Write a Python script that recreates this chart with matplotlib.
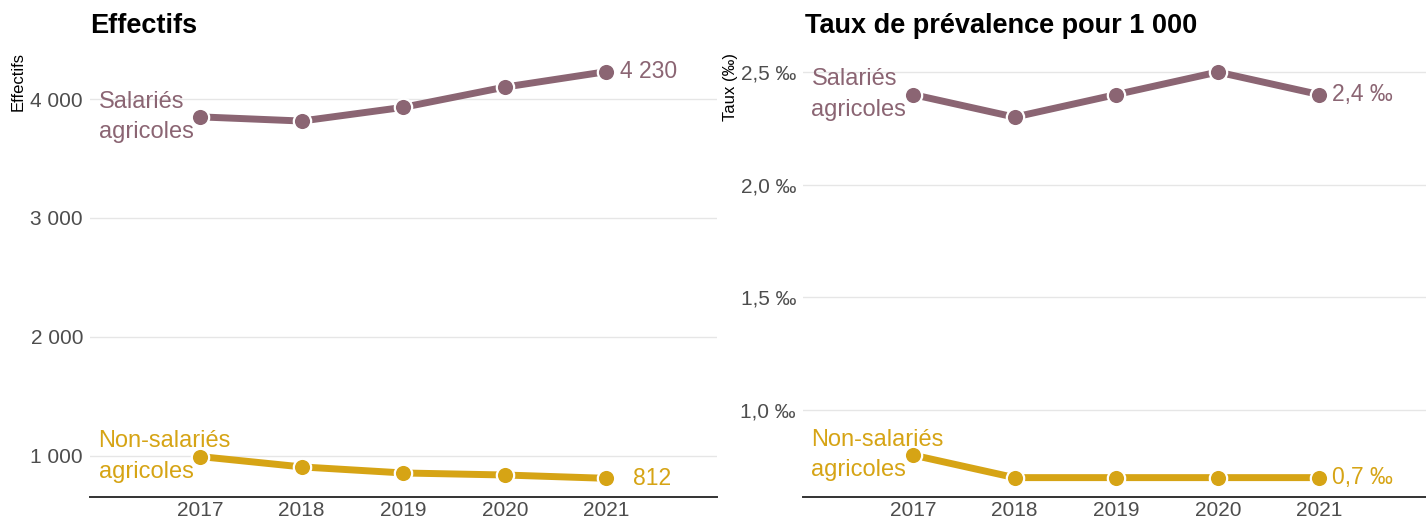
import matplotlib.pyplot as plt
from matplotlib.ticker import FixedLocator

plt.rcParams['font.family'] = ['Liberation Sans', 'DejaVu Sans']

years = [2017, 2018, 2019, 2020, 2021]

# Effectifs
eff_salaries = [3850, 3815, 3930, 4100, 4230]
eff_non_salaries = [995, 908, 857, 840, 812]

# Taux de prévalence pour 1 000
taux_salaries = [2.4, 2.3, 2.4, 2.5, 2.4]
taux_non_salaries = [0.8, 0.7, 0.7, 0.7, 0.7]

eff_ticks = [1000, 2000, 3000, 4000]
taux_ticks = [1.0, 1.5, 2.0, 2.5]

MAUVE = '#8b6573'
JAUNE = '#d6a415'
GRID = '#e6e6e6'
TICK = '#4d4d4d'


def fmt_eff(v):
    return f"{int(v):,}".replace(',', ' ')


def fmt_taux(v):
    return f"{v:.1f}".replace('.', ',') + ' ‰'


fig = plt.figure(figsize=(14.26, 5.19), dpi=100)
W, H = 1426, 519


def make_axes(left_px, right_px):
    return fig.add_axes([left_px / W, (H - 497) / H,
                         (right_px - left_px) / W, (497 - 45) / H])


def style(ax, ticks, fmt, ylim, xlim):
    ax.set_xlim(*xlim)
    ax.set_ylim(*ylim)
    ax.yaxis.set_major_locator(FixedLocator(ticks))
    ax.set_yticklabels([fmt(t) for t in ticks])
    ax.set_xticks(years)
    ax.set_xticklabels([str(y) for y in years])
    ax.tick_params(length=0, labelsize=15, colors=TICK)
    ax.tick_params(axis='y', pad=5)
    ax.tick_params(axis='x', pad=3)
    ax.grid(axis='y', color=GRID, linewidth=1)
    ax.set_axisbelow(True)
    for s in ['top', 'right', 'left']:
        ax.spines[s].set_visible(False)
    ax.spines['bottom'].set_color('#333333')
    ax.spines['bottom'].set_linewidth(1.4)


def draw_series(ax, vals, color, label, end_label, end_dx):
    ax.plot(years, vals, color=color, lw=5, solid_capstyle='butt', zorder=2)
    ax.plot(years, vals, 'o', color=color, ms=12.5, mec='white', mew=1.6, zorder=3)
    ax.text(2016.0, vals[0], label, color=color, fontsize=17,
            ha='left', va='center', linespacing=1.5, zorder=4)
    ax.text(years[-1] + end_dx, vals[-1], end_label, color=color, fontsize=16.5,
            ha='left', va='center', zorder=4)


# Panneau gauche : effectifs
ax1 = make_axes(90, 717)
style(ax1, eff_ticks, fmt_eff, (655, 4454), (2015.916, 2022.09))
draw_series(ax1, eff_salaries, MAUVE, 'Salariés\nagricoles', fmt_eff(eff_salaries[-1]), 0.13)
draw_series(ax1, eff_non_salaries, JAUNE, 'Non-salariés\nagricoles', fmt_eff(eff_non_salaries[-1]), 0.26)
fig.text(90 / W, 1 - 33 / H, 'Effectifs', fontsize=19.5, fontweight='bold',
         ha='left', va='baseline')
fig.text(18 / W, 1 - 52 / H, 'Effectifs', fontsize=12, rotation=90,
         ha='center', va='top')

# Panneau droit : taux de prévalence
ax2 = make_axes(803, 1426)
style(ax2, taux_ticks, fmt_taux, (0.614, 2.62), (2015.917, 2022.05))
draw_series(ax2, taux_salaries, MAUVE, 'Salariés\nagricoles', fmt_taux(taux_salaries[-1]), 0.12)
draw_series(ax2, taux_non_salaries, JAUNE, 'Non-salariés\nagricoles', fmt_taux(taux_non_salaries[-1]), 0.12)
fig.text(805 / W, 1 - 33 / H, 'Taux de prévalence pour 1 000', fontsize=19.5,
         fontweight='bold', ha='left', va='baseline')
fig.text(731 / W, 1 - 53 / H, 'Taux (‰)', fontsize=12, rotation=90,
         ha='center', va='top')

fig.savefig('out.png', dpi=100, facecolor='white')
